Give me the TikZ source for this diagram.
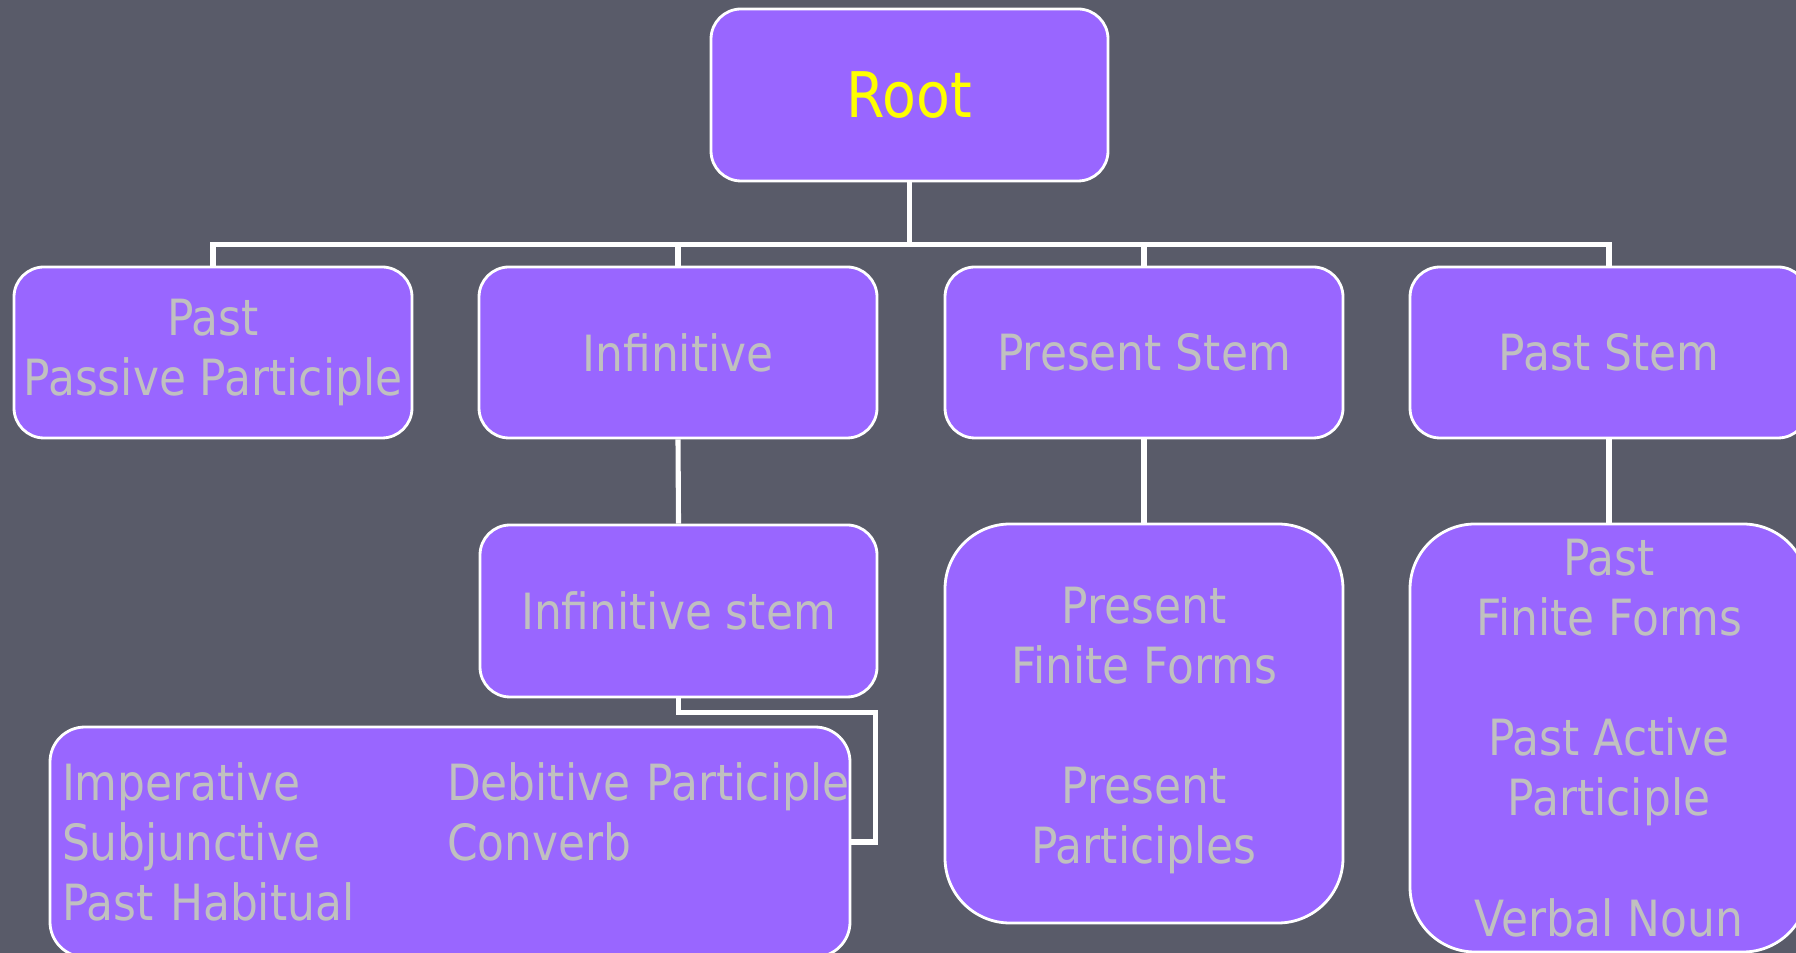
\documentclass[tikz,border=0pt]{standalone}
\usepackage{fontspec}
\setmainfont{DejaVu Sans}[FakeStretch=0.88]
\usetikzlibrary{positioning,calc}

\definecolor{slatebg}{HTML}{595B69}
\definecolor{boxviolet}{HTML}{9966FF}
\definecolor{labelgray}{HTML}{C0C0C0}
\definecolor{rootyellow}{HTML}{FFFF00}

\begin{document}
\begin{tikzpicture}[
      stembox/.style={
        draw=white,
        line width=0.8pt,
        fill=boxviolet,
        rounded corners=0.3cm,
        minimum width=3.98cm,
        minimum height=1.71cm,
        inner sep=0pt,
        align=center,
        text=labelgray,
        font=\fontsize{14.2}{17.1}\selectfont
      },
      groupbox/.style={stembox, rounded corners=0.65cm},
      link/.style={draw=white, line width=1.45pt}
    ]

    % Page and background
    \useasboundingbox (0,0) rectangle (17.96,9.53);
    \fill[slatebg] (0,0) rectangle (17.96,9.53);

    % Coordinates: one centre per box.
    \coordinate (R) at (9.095,8.58);   % root
    \coordinate (A) at (2.13,6.005);   % past passive participle
    \coordinate (B) at (6.78,6.005);   % infinitive
    \coordinate (C) at (11.44,6.005);  % present stem
    \coordinate (D) at (16.09,6.005);  % past stem
    \coordinate (E) at (6.785,3.42);   % infinitive stem
    \coordinate (F) at (4.50,1.11);    % forms from the infinitive stem
    \coordinate (G) at (11.44,2.295);  % present forms
    \coordinate (H) at (16.09,2.15);   % past forms

    % Boxes
    \node[stembox, minimum width=3.97cm, minimum height=1.72cm, text=rootyellow,
          font=\fontsize{17.9}{21.5}\selectfont] (root) at (R) {Root};

    \node[stembox] (ppp) at (A) {Past\\Passive Participle};
    \node[stembox] (inf) at (B) {Infinitive};
    \node[stembox] (pres) at (C) {Present Stem};
    \node[stembox] (past) at (D) {Past Stem};

    \node[stembox, minimum width=3.97cm, minimum height=1.72cm] (infstem) at (E) {Infinitive stem};

    \node[stembox, rounded corners=0.35cm, minimum height=2.30cm, text width=7.76cm,
          inner xsep=0.12cm, align=left] (forms) at (F)
      {\begin{tabular}{@{}p{3.85cm}@{}l@{}}
         \rule{0pt}{15.6pt}Imperative & Debitive Participle\\
         Subjunctive   & Converb\\
         Past Habitual &
       \end{tabular}};

    \node[groupbox, minimum height=3.99cm] (presgrp) at (G)
      {\rule{0pt}{14.2pt}Present\\Finite Forms\\[17.1pt]Present\\Participles};
    \node[groupbox, minimum height=4.28cm] (pastgrp) at (H)
      {Past\\Finite Forms\\[17.1pt]Past Active\\Participle\\[17.1pt]Verbal Noun};

    % Edges
    \draw[link] (root.south) -- ++(0,-0.62) coordinate (hub);
    \draw[link] (ppp.north) |- (hub) -| (past.north);
    \draw[link] (inf.north) -- (inf.north |- hub);
    \draw[link] (pres.north) -- (pres.north |- hub);
    \draw[link] (inf.south) -- (infstem.north);
    \draw[link] (pres.south) -- (presgrp.north);
    \draw[link] (past.south) -- (pastgrp.north);
    \draw[link] (infstem.south) -- ++(0,-0.14) -| ($(forms.east)+(0.24,0)$) -- (forms.east);

    \end{tikzpicture}
\end{document}
